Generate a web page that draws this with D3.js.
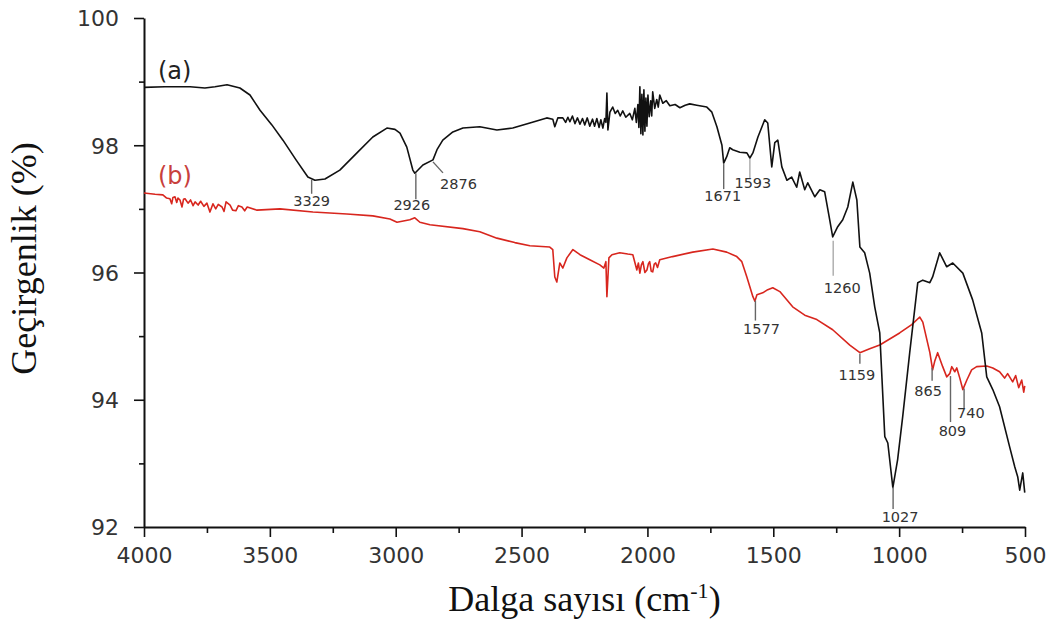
<!DOCTYPE html>
<html lang="tr">
<head>
<meta charset="UTF-8">
<title>FTIR</title>
<style>
  html, body { margin: 0; padding: 0; background: #fff; }
  svg { display: block; }
  .tick text { font-family: "DejaVu Sans", Arial, sans-serif; font-size: 22px; fill: #333; }
  .peak { font-family: "DejaVu Sans", Arial, sans-serif; font-size: 14.5px; fill: #333; }
  .title { font-family: "Liberation Serif", "Times New Roman", serif; font-size: 36px; fill: #111; }
</style>
<script src="https://cdn.jsdelivr.net/npm/d3@7"></script>
</head>
<body>
<script>
// spectrum (a) - black, [wavenumber, transmittance %]
const seriesA = [
  [4000,98.91],[3917,98.92],[3817,98.92],[3758,98.90],[3718,98.92],[3670,98.95],[3619,98.90],[3579,98.79],[3539,98.55],[3492,98.32],
  [3448,98.08],[3396,97.77],[3349,97.50],[3321,97.45],[3281,97.47],[3222,97.61],[3154,97.88],[3091,98.13],[3035,98.27],[3003,98.25],
  [2983,98.19],[2956,97.97],[2932,97.61],[2924,97.56],[2892,97.69],[2852,97.77],[2836,97.93],[2813,98.08],[2773,98.21],[2733,98.27],
  [2666,98.29],[2598,98.24],[2535,98.27],[2467,98.35],[2400,98.43],[2376,98.41],[2368,98.29],[2356,98.43],[2336,98.43],[2325,98.36],
  [2316,98.44],[2308,98.37],[2298,98.46],[2288,98.34],[2278,98.43],[2268,98.33],[2258,98.42],[2249,98.32],[2239,98.43],[2229,98.30],
  [2218,98.41],[2210,98.30],[2201,98.42],[2192,98.28],[2185,98.40],[2177,98.27],[2170,98.42],[2165,98.36],[2161,98.82],[2157,98.24],
  [2149,98.52],[2138,98.60],[2128,98.50],[2118,98.55],[2108,98.46],[2098,98.54],[2086,98.44],[2070,98.50],[2060,98.40],[2050,98.58],
  [2044,98.36],[2038,98.64],[2034,98.28],[2030,98.92],[2026,98.18],[2022,98.80],[2018,98.16],[2014,98.87],[2010,98.22],[2006,98.74],
  [2002,98.30],[1998,98.79],[1993,98.45],[1987,98.70],[1983,98.46],[1979,98.84],[1971,98.58],[1963,98.72],[1957,98.60],[1951,98.79],
  [1939,98.66],[1925,98.70],[1911,98.62],[1890,98.64],[1871,98.59],[1850,98.63],[1832,98.65],[1804,98.63],[1764,98.60],[1744,98.52],
  [1724,98.29],[1704,98.00],[1697,97.72],[1685,97.82],[1673,97.96],[1661,97.93],[1633,97.89],[1605,97.88],[1593,97.80],[1581,97.88],
  [1561,98.13],[1534,98.40],[1522,98.35],[1506,97.66],[1494,98.04],[1482,98.08],[1466,97.66],[1446,97.45],[1427,97.50],[1407,97.34],
  [1395,97.58],[1375,97.30],[1363,97.41],[1335,97.19],[1315,97.30],[1296,97.27],[1276,96.83],[1264,96.56],[1244,96.72],[1224,96.83],
  [1204,97.03],[1184,97.42],[1168,97.14],[1156,96.40],[1137,96.31],[1117,95.99],[1097,95.46],[1077,95.05],[1057,93.42],[1045,93.32],
  [1025,92.62],[1006,93.06],[986,93.73],[958,94.74],[926,95.84],[906,95.88],[878,95.84],[867,95.93],[839,96.31],[811,96.09],
  [787,96.15],[747,95.99],[708,95.57],[672,95.05],[652,94.36],[628,94.16],[601,93.89],[561,93.26],[541,92.95],[529,92.79],
  [521,92.58],[509,92.85],[501,92.54]
];

// spectrum (b) - red
const seriesB = [
  [4000,97.25],[3956,97.23],[3925,97.22],[3910,97.17],[3897,97.16],[3890,97.08],[3885,97.18],[3877,97.19],[3870,97.10],[3865,97.17],
  [3857,97.14],[3849,97.03],[3843,97.15],[3837,97.16],[3825,97.09],[3815,97.14],[3805,97.05],[3797,97.11],[3785,97.06],[3775,97.12],
  [3762,97.04],[3750,97.09],[3738,96.95],[3726,97.08],[3715,97.00],[3705,97.07],[3690,97.03],[3682,96.96],[3674,97.11],[3658,97.06],
  [3648,96.98],[3635,96.97],[3625,97.05],[3611,97.03],[3600,96.97],[3590,97.03],[3551,96.98],[3460,97.00],[3329,96.95],[3194,96.92],
  [3091,96.89],[3023,96.84],[2995,96.79],[2944,96.83],[2924,96.86],[2904,96.79],[2864,96.75],[2733,96.69],[2666,96.64],[2598,96.54],
  [2527,96.47],[2467,96.42],[2388,96.40],[2376,96.36],[2368,95.93],[2360,95.85],[2348,96.15],[2336,96.07],[2320,96.23],[2296,96.36],
  [2268,96.28],[2229,96.20],[2189,96.12],[2173,96.07],[2165,96.17],[2161,95.62],[2153,96.23],[2141,96.28],[2110,96.31],[2078,96.29],
  [2058,96.28],[2042,96.04],[2036,96.15],[2030,95.99],[2024,96.12],[2018,96.17],[2010,96.00],[2002,96.04],[1996,96.14],[1991,96.17],
  [1985,96.02],[1979,96.01],[1973,96.13],[1967,96.15],[1960,96.08],[1951,96.20],[1900,96.25],[1820,96.32],[1740,96.37],[1685,96.32],
  [1645,96.25],[1625,96.17],[1605,95.93],[1581,95.62],[1573,95.55],[1565,95.65],[1542,95.68],[1522,95.73],[1502,95.76],[1474,95.70],
  [1423,95.46],[1375,95.33],[1327,95.26],[1264,95.10],[1196,94.86],[1156,94.74],[1117,94.80],[1077,94.86],[998,95.05],[950,95.18],
  [918,95.30],[906,95.22],[878,94.74],[867,94.47],[859,94.60],[847,94.74],[827,94.52],[811,94.36],[799,94.41],[791,94.52],
  [779,94.44],[771,94.50],[759,94.34],[747,94.16],[731,94.31],[712,94.47],[692,94.52],[652,94.53],[628,94.50],[601,94.44],
  [581,94.34],[569,94.41],[549,94.28],[537,94.38],[525,94.19],[513,94.31],[505,94.12],[501,94.22]
];

const xTicks = [4000, 3500, 3000, 2500, 2000, 1500, 1000, 500];
const xMinor = [3750, 3250, 2750, 2250, 1750, 1250, 750];
const yTicks = [92, 94, 96, 98, 100];
const yMinor = [93, 95, 97, 99];

// peak marks
const peakLabels = ["3329", "2926", "2876", "1671", "1593", "1260", "1027", "1577", "1159", "865", "809", "740"];
const peakWaves  = [3334, 2920, 2852, 1697, 1593, 1262, 1024, 1571, 1156, 869, 796, 742];
const peakSeries = ["a", "a", "a", "a", "a", "a", "a", "b", "b", "b", "b", "b"];
</script>

<script>
var width = 1056, height = 620;
var margin = {left: 144, right: 31, top: 18, bottom: 93};

// layout of the peak marks: gap below curve, line length, label offsets
var peakLayout = [
  {gap: 1, len: 14, dx: 0,  dy: 12},
  {gap: 1, len: 26, dx: -4, dy: 11},
  {gap: 2, len: 11, dx: 7,  dy: 16, diag: true},
  {gap: 1, len: 25, dx: -1, dy: 12},
  {gap: 1, len: 19, dx: 3,  dy: 10, light: true},
  {gap: 5, len: 35, dx: 9,  dy: 17, light: true},
  {gap: 1, len: 22, dx: 7,  dy: 13},
  {gap: 1, len: 20, dx: 6,  dy: 13},
  {gap: 1, len: 10, dx: -3, dy: 16},
  {gap: 1, len: 13, dx: -4, dy: 15},
  {gap: 5, len: 46, dx: 2,  dy: 14},
  {gap: 2, len: 20, dx: -7, dy: 9, start: true}
];

var svg = d3.select('body').append('svg')
  .attr('width', width)
  .attr('height', height);

var x = d3.scaleLinear().domain([4000, 500]).range([margin.left, width - margin.right]);
var y = d3.scaleLinear().domain([92, 100]).range([height - margin.bottom, margin.top]);

function valueAt(series, wn) {
  for (var i = 0; i < series.length - 1; i++) {
    var a = series[i], b = series[i + 1];
    if (wn <= a[0] && wn >= b[0]) {
      var t = (a[0] - wn) / (a[0] - b[0]);
      return a[1] + t * (b[1] - a[1]);
    }
  }
  return series[series.length - 1][1];
}

// axes
svg.append('g')
  .attr('transform', 'translate(0,' + y(92) + ')')
  .call(d3.axisBottom(x).tickValues(xTicks).tickSize(10).tickSizeOuter(0).tickPadding(10).tickFormat(d3.format('d')));
svg.append('g')
  .attr('transform', 'translate(0,' + y(92) + ')')
  .call(d3.axisBottom(x).tickValues(xMinor).tickSize(6).tickFormat(''))
  .select('.domain').remove();

var yAxis = svg.append('g')
  .attr('transform', 'translate(' + x(4000) + ',0)')
  .call(d3.axisLeft(y).tickValues(yTicks).tickSize(10).tickSizeOuter(0).tickPadding(15));
svg.append('g')
  .attr('transform', 'translate(' + x(4000) + ',0)')
  .call(d3.axisLeft(y).tickValues(yMinor).tickSize(5).tickFormat(''))
  .select('.domain').remove();

svg.selectAll('.domain').attr('stroke', '#111').attr('stroke-width', 2);
svg.selectAll('.tick line').attr('stroke', '#111').attr('stroke-width', 1.6);
yAxis.selectAll('.tick text').attr('dy', '0.36em');

// spectra
var line = d3.line()
  .x(function (d) { return x(d[0]); })
  .y(function (d) { return y(d[1]); });

svg.append('path')
  .datum(seriesB)
  .attr('fill', 'none')
  .attr('stroke', '#d8261e')
  .attr('stroke-width', 1.6)
  .attr('stroke-linejoin', 'round')
  .attr('d', line);

svg.append('path')
  .datum(seriesA)
  .attr('fill', 'none')
  .attr('stroke', '#111')
  .attr('stroke-width', 1.6)
  .attr('stroke-linejoin', 'round')
  .attr('d', line);

// peak marks
var marks = svg.append('g');
peakLabels.forEach(function (label, i) {
  var lay = peakLayout[i];
  var series = peakSeries[i] === 'a' ? seriesA : seriesB;
  var px = x(peakWaves[i]);
  var py = y(valueAt(series, peakWaves[i])) + lay.gap;
  marks.append('line')
    .attr('x1', px).attr('y1', py)
    .attr('x2', lay.diag ? px + 10 : px).attr('y2', py + lay.len)
    .attr('stroke', lay.light ? '#aaa' : '#666')
    .attr('stroke-width', 1.4);
  marks.append('text')
    .attr('class', 'peak')
    .attr('x', px + lay.dx)
    .attr('y', py + lay.len + lay.dy)
    .attr('text-anchor', (lay.start || lay.diag) ? 'start' : 'middle')
    .text(label);
});

// series labels
svg.append('text')
  .attr('x', 158).attr('y', 79)
  .style('font-family', '"DejaVu Sans", Arial, sans-serif')
  .style('font-size', '24px')
  .attr('fill', '#222')
  .text('(a)');
svg.append('text')
  .attr('x', 158).attr('y', 184)
  .style('font-family', '"DejaVu Sans", Arial, sans-serif')
  .style('font-size', '24px')
  .attr('fill', '#c8403c')
  .text('(b)');

// axis titles
var xt = svg.append('text')
  .attr('class', 'title')
  .attr('x', (x(4000) + x(500)) / 2)
  .attr('y', 611)
  .attr('text-anchor', 'middle');
xt.append('tspan').text('Dalga sayısı (cm');
xt.append('tspan').attr('dy', -13).style('font-size', '22px').text('-1');
xt.append('tspan').attr('dy', 13).text(')');

svg.append('text')
  .attr('class', 'title')
  .attr('transform', 'translate(36,' + ((y(92) + y(100)) / 2 - 14) + ') rotate(-90)')
  .attr('text-anchor', 'middle')
  .text('Geçirgenlik (%)');
</script>
</body>
</html>
